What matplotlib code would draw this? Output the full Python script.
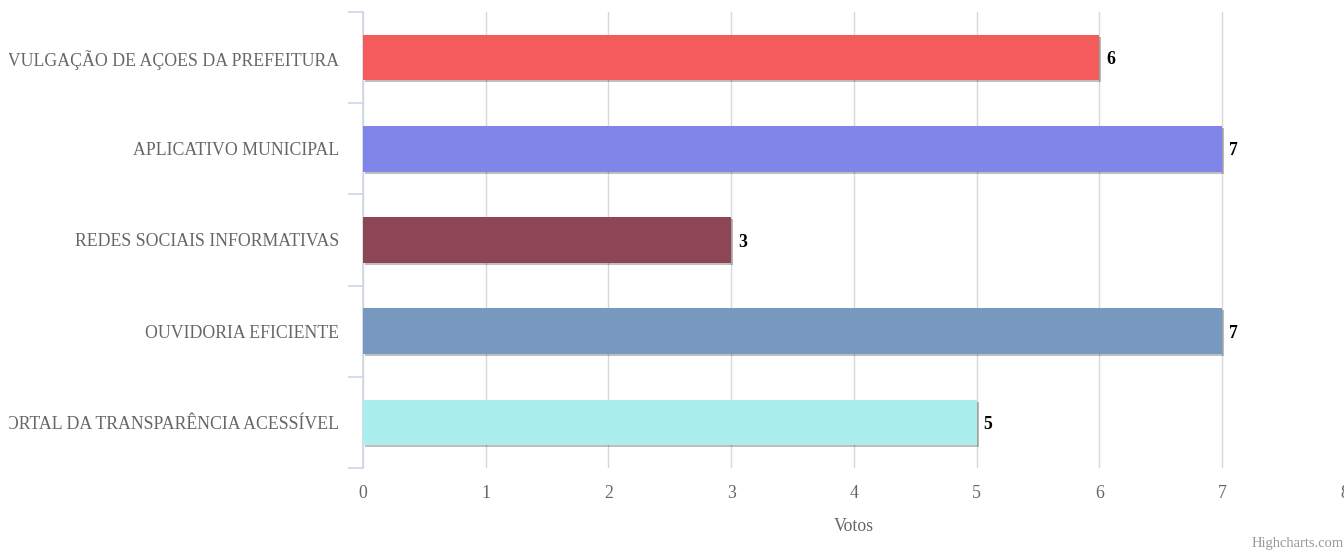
import matplotlib.pyplot as plt
import matplotlib.patheffects as pe
from matplotlib.transforms import Bbox

# dados
categorias = [
    "DIVULGAÇÃO DE AÇOES DA PREFEITURA",
    "APLICATIVO MUNICIPAL",
    "REDES SOCIAIS INFORMATIVAS",
    "OUVIDORIA EFICIENTE",
    "PORTAL DA TRANSPARÊNCIA ACESSÍVEL",
]
votos = [6, 7, 3, 7, 5]
cores = ["#f45b5b", "#8085e9", "#8d4654", "#7798bf", "#aaeeee"]
x_ticks = [0, 1, 2, 3, 4, 5, 6, 7, 8]

plt.rcParams['font.family'] = ['Liberation Serif', 'DejaVu Serif']

W, H = 1344, 552
fig = plt.figure(figsize=(W / 100, H / 100), dpi=100)
ax = fig.add_axes([363 / W, 1 - 468 / H, (1344.6 - 363) / W, (468 - 12) / H])

pos = list(range(len(categorias)))
barras = ax.barh(pos, votos, height=0.5, color=cores, zorder=3)
for b in barras:
    b.set_path_effects([pe.SimplePatchShadow(offset=(1.5, -1.5), shadow_rgbFace='#000000', alpha=0.25),
                        pe.Normal()])

for p, v in zip(pos, votos):
    ax.annotate(str(v), (v, p), xytext=(5, -1.5), textcoords='offset points',
                va='center', ha='left', fontsize=12.8, fontweight='bold', color='black', zorder=4)

ax.set_xlim(0, 8)
ax.set_ylim(len(categorias) - 0.5, -0.5)
ax.set_xticks(x_ticks)
ax.set_yticks([p - 0.5 for p in pos] + [len(categorias) - 0.5], minor=False)
ax.set_yticklabels([])
ax.set_yticks(pos, minor=True)
ax.set_yticklabels(categorias, minor=True)

ax.grid(axis='x', color='#d8d8d8', linewidth=1, zorder=0)
for s in ['top', 'right', 'bottom']:
    ax.spines[s].set_visible(False)
ax.spines['left'].set_color('#ccd6eb')
ax.spines['left'].set_linewidth(1.2)

ax.tick_params(axis='x', length=0, pad=12, labelsize=12.8, labelcolor='#666666')
ax.tick_params(axis='y', which='major', length=10.5, width=1.2, color='#ccd6eb')
ax.tick_params(axis='y', which='minor', length=0, pad=17, labelsize=12.8, labelcolor='#666666')

clip = Bbox.from_extents(9, 0, 400, H)
for t in ax.get_yticklabels(minor=True):
    t.set_clip_box(clip)
    t.set_clip_on(True)

ax.set_xlabel("Votos", fontsize=12.8, color='#666666', labelpad=12)

fig.text(1344 / W, 1 - 544 / H, "Highcharts.com", ha='right', va='center', fontsize=10.5, color='#999999')

fig.savefig("out.png", dpi=100)
